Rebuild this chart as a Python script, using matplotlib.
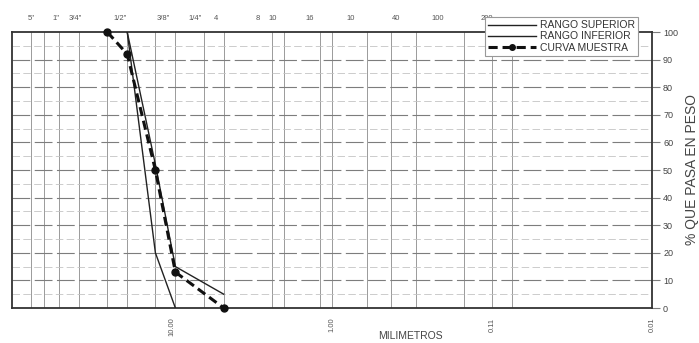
import matplotlib.pyplot as plt

# aberturas de tamices (mm) para la rejilla vertical
sieve_mm = [76.2, 63.5, 50.8, 38.1, 25.4, 19.05, 12.7, 9.525, 6.35, 4.75,
            2.36, 2.0, 1.18, 1.0, 0.6, 0.425, 0.3, 0.15, 0.1, 0.075]

# rotulos superiores (posicion aproximada en mm donde aparecen impresos)
top_labels = ['5"', '1"', '3/4"', '1/2"', '3/8"', '1/4"', '4', '8', '10',
              '16', '10', '40', '100', '200']
top_label_mm = [76, 53, 40.4, 21.1, 11.4, 7.2, 5.3, 2.9, 2.34, 1.37,
                0.77, 0.40, 0.217, 0.107]

bottom_mm = [10, 1, 0.1, 0.01]
bottom_labels = ['10.00', '1.00', '0.11', '0.01']

pct_ticks = [0, 10, 20, 30, 40, 50, 60, 70, 80, 90, 100]

# curvas
sup_mm = [19.05, 12.7, 9.525, 4.75]
sup_pct = [100, 52, 15, 5]
inf_mm = [19.05, 12.7, 9.525]
inf_pct = [100, 20, 0]
mue_mm = [25.4, 19.05, 12.7, 9.525, 4.75]
mue_pct = [100, 92, 50, 13, 0]


def main():
    plt.rcParams['font.family'] = ['Liberation Sans', 'DejaVu Sans']
    fig = plt.figure(figsize=(6.99, 3.43), dpi=100)
    ax = fig.add_axes([12 / 699, 1 - 308 / 343, 640 / 699, 276 / 343])

    ax.set_xscale('log')
    ax.set_xlim(100, 0.01)
    ax.set_ylim(0, 100)

    # rejilla
    for d in sieve_mm:
        ax.axvline(d, color='#9a9a9a', lw=0.7, zorder=1)
    for p in range(5, 100, 10):
        ax.axhline(p, color='#c4c4c4', lw=0.6, ls=(0, (9, 4)), zorder=1)
    for p in pct_ticks[1:-1]:
        ax.axhline(p, color='#7d7d7d', lw=0.8, ls=(0, (16, 4)), zorder=1)

    ax.plot(sup_mm, sup_pct, color='#222222', lw=1.0, label='RANGO SUPERIOR',
            zorder=3)
    ax.plot(inf_mm, inf_pct, color='#222222', lw=1.0, label='RANGO INFERIOR',
            zorder=3)
    ax.plot(mue_mm, mue_pct, color='#111111', lw=2.2, ls=(0, (3, 1.6)),
            marker='o', ms=5, label='CURVA MUESTRA', zorder=4, clip_on=False)

    for s in ax.spines.values():
        s.set_color('#333333')
        s.set_linewidth(1.3)

    ax.set_xticks([])
    ax.xaxis.set_minor_locator(plt.NullLocator())
    ax.yaxis.tick_right()
    ax.set_yticks(pct_ticks)
    ax.tick_params(axis='y', length=6, width=0.8, color='#7d7d7d',
                   labelsize=6.5, labelcolor='#444444', pad=2)

    for lab, d in zip(top_labels, top_label_mm):
        ax.text(d, 1.05, lab, transform=ax.get_xaxis_transform(),
                ha='center', va='center', fontsize=5.5, color='#555555')
    for lab, d in zip(bottom_labels, bottom_mm):
        ax.text(d, -0.035, lab, transform=ax.get_xaxis_transform(),
                ha='center', va='top', rotation=90, fontsize=5.5,
                color='#555555')

    ax.text(0.622, -0.1, 'MILIMETROS', transform=ax.transAxes,
            ha='center', va='center', fontsize=7.5, color='#444444')
    fig.text(0.99, 0.505, '% QUE PASA EN PESO', rotation=90,
             ha='center', va='center', fontsize=10, color='#444444')

    leg = ax.legend(loc='upper right', bbox_to_anchor=(0.978, 1.054),
                    borderaxespad=0, fontsize=7.5, handlelength=4.6,
                    handletextpad=0.4, labelspacing=0.12, borderpad=0.3,
                    fancybox=False, framealpha=1, edgecolor='#999999',
                    markerscale=0.8)
    leg.get_frame().set_linewidth(0.8)
    for t in leg.get_texts():
        t.set_color('#333333')
    leg.set_zorder(10)

    fig.savefig('out.png', dpi=100)
    plt.close()


if __name__ == '__main__':
    main()
